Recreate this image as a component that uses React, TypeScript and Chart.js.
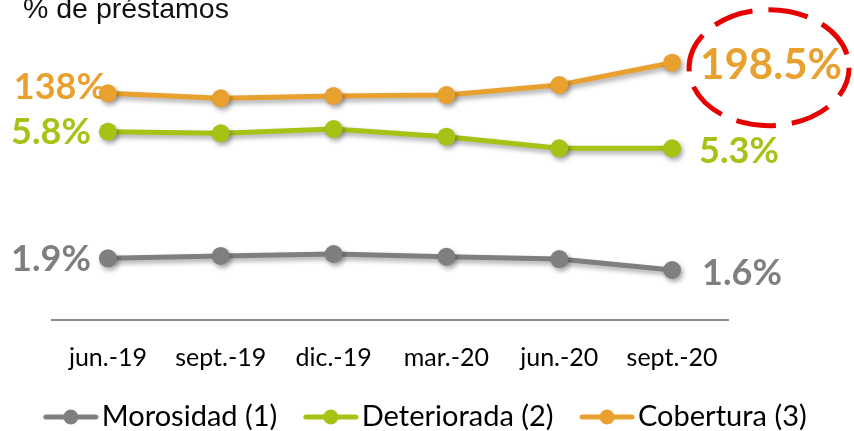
import React, { useEffect, useRef } from "react";
import { Chart, registerables } from "chart.js";

Chart.register(...registerables);

const categories = ["jun.-19", "sept.-19", "dic.-19", "mar.-20", "jun.-20", "sept.-20"];
const morosidad = [1.9, 1.96, 2.01, 1.94, 1.88, 1.6];
const deteriorada = [5.8, 5.75, 5.88, 5.65, 5.3, 5.3];
const cobertura = [138, 128.1, 132.7, 134.6, 154.4, 198.5];
const seriesNames = ["Morosidad (1)", "Deteriorada (2)", "Cobertura (3)"];
const unitLabel = "% de préstamos";

const GRAY = "#7f7f7f";
const GREEN = "#a6c214";
const ORANGE = "#e8a02e";
const COLORS = [GRAY, GREEN, ORANGE];

const LABEL_POS = [
  { fdx: -17, fdy: 13, ldx: 30, ldy: 15, fs: 36, ls: 36 },
  { fdx: -17, fdy: 12, ldx: 27, ldy: 15, fs: 36, ls: 36 },
  { fdx: -2, fdy: 6, ldx: 28, ldy: 16, fs: 36, ls: 42 },
];

const SYM_L = 27;
function makeSymbol(color: string): HTMLCanvasElement {
  const c = document.createElement("canvas");
  c.width = SYM_L + 56;
  c.height = 18;
  const ctx = c.getContext("2d")!;
  ctx.strokeStyle = color;
  ctx.lineWidth = 5;
  ctx.lineCap = "round";
  ctx.beginPath();
  ctx.moveTo(SYM_L + 3, 9);
  ctx.lineTo(SYM_L + 53, 9);
  ctx.stroke();
  ctx.fillStyle = color;
  ctx.beginPath();
  ctx.arc(SYM_L + 28, 9, 7.5, 0, Math.PI * 2);
  ctx.fill();
  return c;
}

const shadowPlugin = {
  id: "shadowPlugin",
  beforeDatasetDraw(chart: any) {
    const ctx = chart.ctx;
    ctx.save();
    ctx.shadowColor = "rgba(0,0,0,0.35)";
    ctx.shadowBlur = 5;
    ctx.shadowOffsetX = 2;
    ctx.shadowOffsetY = 3;
  },
  afterDatasetDraw(chart: any) {
    chart.ctx.restore();
  },
};

const endLabelsPlugin = {
  id: "endLabels",
  beforeDatasetsDraw(chart: any) {
    const ctx = chart.ctx;
    chart.data.datasets.forEach((ds: any, i: number) => {
      const meta = chart.getDatasetMeta(i);
      const pts = meta.data;
      if (!pts.length) return;
      const cfg = LABEL_POS[i];
      const first = pts[0];
      const last = pts[pts.length - 1];
      const v0 = ds.data[0];
      const v1 = ds.data[ds.data.length - 1];
      ctx.save();
      ctx.fillStyle = ds.borderColor;
      ctx.textBaseline = "alphabetic";
      ctx.font = `bold ${cfg.fs}px Lato, 'Open Sans', sans-serif`;
      ctx.textAlign = "right";
      ctx.fillText(`${v0}%`, first.x + cfg.fdx, first.y + cfg.fdy);
      ctx.font = `bold ${cfg.ls}px Lato, 'Open Sans', sans-serif`;
      ctx.textAlign = "left";
      ctx.fillText(`${v1}%`, last.x + cfg.ldx, last.y + cfg.ldy);
      ctx.restore();
      if (i === 2) {
        ctx.save();
        ctx.strokeStyle = "#e60000";
        ctx.lineWidth = 5;
        ctx.setLineDash([40, 16]);
        ctx.lineDashOffset = 10;
        ctx.beginPath();
        ctx.ellipse(last.x + 97, last.y + 5, 80, 58, 0, 0, Math.PI * 2);
        ctx.stroke();
        ctx.restore();
      }
    });
  },
  afterDraw(chart: any) {
    const ctx = chart.ctx;
    ctx.save();
    ctx.fillStyle = "#111";
    ctx.font = "28.5px 'Liberation Sans', Arial, sans-serif";
    ctx.textAlign = "left";
    ctx.textBaseline = "alphabetic";
    ctx.fillText(unitLabel, 23, 18);
    ctx.restore();
  },
};

const hiddenSide = (w: number) => ({
  display: true,
  grid: { display: false, drawTicks: false },
  border: { display: false },
  ticks: { display: false },
  afterFit: (scale: any) => {
    scale.width = w;
  },
});

export default function App() {
  const ref = useRef<HTMLCanvasElement | null>(null);
  useEffect(() => {
    if (!ref.current) return;
    const seriesData = [morosidad, deteriorada, cobertura];
    const axisIds = ["yG", "yD", "yC"];
    const chart = new Chart(ref.current, {
      type: "line",
      data: {
        labels: categories,
        datasets: seriesData.map((d, i) => ({
          label: seriesNames[i],
          data: d,
          yAxisID: axisIds[i],
          borderColor: COLORS[i],
          backgroundColor: COLORS[i],
          pointBackgroundColor: COLORS[i],
          pointBorderColor: COLORS[i],
          borderWidth: 5,
          pointRadius: 9,
          pointBorderWidth: 0,
          tension: 0,
          fill: false,
        })),
      },
      options: {
        responsive: false,
        animation: false,
        layout: { padding: { top: 20, left: 0, right: 20, bottom: -10.5 } },
        scales: {
          x: {
            type: "category",
            offset: true,
            grid: { display: false, drawTicks: false },
            border: { display: true, color: "#8c8c8c", width: 2 },
            ticks: {
              color: "#000",
              padding: 23,
              maxRotation: 0,
              autoSkip: false,
              font: { family: "Lato, 'Open Sans', sans-serif", size: 25 },
            },
            afterFit: (scale: any) => {
              scale.height = 72.5;
            },
          },
          yG: { ...hiddenSide(51.5), position: "left", min: 0.318, max: 8.01 },
          yD: { display: false, min: 0.132, max: 9.162 },
          yC: { ...hiddenSide(105.5), position: "right", min: -310.2, max: 282.9 },
        },
        plugins: {
          title: { display: false },
          tooltip: { enabled: false },
          legend: {
            display: true,
            position: "bottom",
            labels: {
              usePointStyle: true,
              pointStyleWidth: 60,
              padding: 10,
              color: "#000",
              font: { family: "Lato, 'Open Sans', sans-serif", size: 29 },
              generateLabels: (c: any) => {
                const items = (Chart.defaults.plugins.legend.labels as any).generateLabels(c);
                return items.map((it: any, i: number) => ({
                  ...it,
                  pointStyle: makeSymbol(COLORS[i]),
                }));
              },
            },
          },
        },
      } as any,
      plugins: [shadowPlugin, endLabelsPlugin],
    });
    return () => chart.destroy();
  }, []);
  return (
    <div style={{ position: "fixed", left: 0, top: 0, width: 854, height: 431, background: "#fff" }}>
      <canvas ref={ref} width={854} height={431} style={{ display: "block" }} />
    </div>
  );
}
